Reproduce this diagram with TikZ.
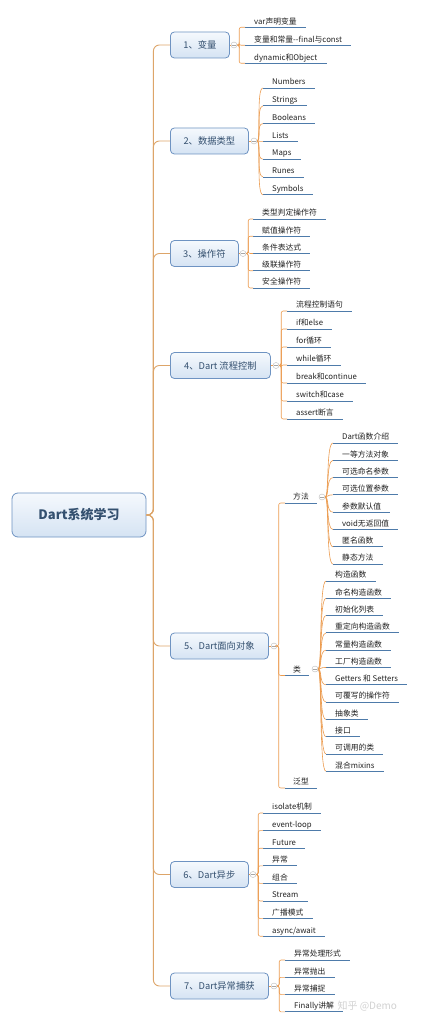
\documentclass[tikz,border=0pt]{standalone}
\usepackage{fontspec}
\setmainfont{Noto Sans CJK SC}
\usetikzlibrary{positioning,calc}
\definecolor{dkInk}{HTML}{222222}
\definecolor{dkNavy}{HTML}{34506F}
\definecolor{dkEdge}{HTML}{6E93C2}
\definecolor{dkTop}{HTML}{F5F9FD}
\definecolor{dkBot}{HTML}{D5E3F3}
\definecolor{dkTan}{HTML}{DDA569}
\definecolor{dkOrange}{HTML}{EC9C50}
\definecolor{dkLine}{HTML}{4E7BAA}
\definecolor{dkMark}{HTML}{D2D2D2}
\tikzset{
  topic/.style  ={draw=dkEdge,line width=0.8pt,rounded corners=4pt,
                  top color=dkTop,bottom color=dkBot,text=dkNavy,
                  font=\fontsize{9.3}{10}\selectfont,minimum height=26pt,
                  inner xsep=0pt,anchor=west},
  rootbox/.style={topic,anchor=center,minimum width=134pt,minimum height=44pt,
                  rounded corners=6pt,font=\fontsize{13}{15}\selectfont\bfseries},
  leaf/.style   ={anchor=south west,inner xsep=9pt,inner ysep=1.8pt,
                  text height=6pt,text depth=1.2pt,text=dkInk,
                  font=\fontsize{7.8}{8}\selectfont},
  uline/.style  ={dkLine,line width=0.9pt},
  trunk/.style  ={dkTan,line width=0.9pt,rounded corners=6pt},
  twig/.style   ={dkOrange,line width=0.6pt,rounded corners=2pt},
  fold/.style   ={circle,draw=gray!55,fill=white,line width=0.4pt,
                  minimum size=6pt,inner sep=0pt,
                  path picture={\draw[gray!70,line width=0.4pt]
                    ([xshift=-1.6pt]path picture bounding box.center) --
                    ([xshift=1.6pt]path picture bounding box.center);}},
}
\begin{document}
\begin{tikzpicture}[x=1pt,y=-1pt]
\fill[white] (0,0) rectangle (421,1024);
\useasboundingbox (0,0) rectangle (421,1024);

% root
\node[rootbox] (root) at (79,515) {Dart系统学习};

% main topics
\node[topic,minimum width=59pt]  (t1) at (170,45)    {1、变量};
\node[topic,minimum width=78pt]  (t2) at (170,141)   {2、数据类型};
\node[topic,minimum width=68pt]  (t3) at (170,253.5) {3、操作符};
\node[topic,minimum width=100pt] (t4) at (170,365.5) {4、Dart 流程控制};
\node[topic,minimum width=98pt]  (t5) at (170,646)   {5、Dart面向对象};
\node[topic,minimum width=78pt]  (t6) at (170,874.5) {6、Dart异步};
\node[topic,minimum width=98pt]  (t7) at (170,986)   {7、Dart异常捕获};

\foreach \i in {1,...,7}
  \draw[trunk] (root.east) -- ++(7,0) |- (t\i.west);

% fold marks
\node[fold] (f1) at (234,45)    {};
\node[fold] (f2) at (254,141)   {};
\node[fold] (f3) at (243,253.5) {};
\node[fold] (f4) at (276,365.5) {};
\node[fold] (f5) at (274,646)   {};
\node[fold] (f6) at (253,874.5) {};
\node[fold] (f7) at (274,986)   {};
\foreach \i in {1,...,7}
  \draw[twig] (t\i.east) -- (f\i.west);

% 1 variables
\foreach \t [count=\i] in {var声明变量, 变量和常量{-}{-}final与const, dynamic和Object} {
  \node[leaf] (var\i) at (245,{27.3+(\i-1)*18}) {\t};
  \draw[uline] (var\i.south west) -- (var\i.south east);
  \draw[twig] (f1.east) -- ++(2,0) |- (var\i.south west);
}

% 2 data types
\foreach \t [count=\i] in {Numbers, Strings, Booleans, Lists, Maps, Runes, Symbols} {
  \node[leaf] (type\i) at (263,{88+(\i-1)*17.8}) {\t};
  \draw[uline] (type\i.south west) -- (type\i.south east);
  \draw[twig] (f2.east) .. controls +(4,0) and +(-7,0) .. (type\i.south west);
}

% 3 operators
\foreach \t [count=\i] in {类型判定操作符, 赋值操作符, 条件表达式, 级联操作符, 安全操作符} {
  \node[leaf] (op\i) at (253,{219+(\i-1)*17.25}) {\t};
  \draw[uline] (op\i.south west) -- (op\i.south east);
  \draw[twig] (f3.east) -- ++(2,0) |- (op\i.south west);
}

% 4 control flow
\foreach \t [count=\i] in {流程控制语句, if和else, for循环, while循环, break和continue, switch和case, assert断言} {
  \node[leaf] (flow\i) at (287,{311+(\i-1)*18}) {\t};
  \draw[uline] (flow\i.south west) -- (flow\i.south east);
  \draw[twig] (f4.east) -- ++(2,0) |- (flow\i.south west);
}

% 5 object orientation
\node[leaf,inner xsep=8pt] (fn)  at (285,503)   {方法};
\node[leaf,inner xsep=8pt] (cls) at (285,675.5) {类};
\node[leaf,inner xsep=8pt] (gen) at (285,788)   {泛型};
\foreach \n in {fn,cls,gen} {
  \draw[uline] (\n.south west) -- (\n.south east);
  \draw[twig] (f5.east) -- ++(1.5,0) |- (\n.south west);
}
\node[fold] (fnf)  at (322,497) {};
\node[fold] (clsf) at (315,669) {};

\foreach \t [count=\i] in {Dart函数介绍, 一等方法对象, 可选命名参数, 可选位置参数, 参数默认值, void无返回值, 匿名函数, 静态方法} {
  \node[leaf] (fn\i) at (333,{443+(\i-1)*17.3}) {\t};
  \draw[uline] (fn\i.south west) -- (fn\i.south east);
  \draw[twig] (fnf.east) .. controls +(4,0) and +(-7,0) .. (fn\i.south west);
}
\foreach \t [count=\i] in {构造函数, 命名构造函数, 初始化列表, 重定向构造函数, 常量构造函数, 工厂构造函数, Getters 和 Setters, 可覆写的操作符, 抽象类, 接口, 可调用的类, 混合mixins} {
  \node[leaf] (cls\i) at (326,{581+(\i-1)*17.3}) {\t};
  \draw[uline] (cls\i.south west) -- (cls\i.south east);
  \draw[twig] (clsf.east) .. controls +(4,0) and +(-7,0) .. (cls\i.south west);
}

% 6 async
\foreach \t [count=\i] in {isolate机制, event-loop, Future, 异常, 组合, Stream, 广播模式, async/await} {
  \node[leaf] (async\i) at (263,{813+(\i-1)*17.6}) {\t};
  \draw[uline] (async\i.south west) -- (async\i.south east);
  \draw[twig] (f6.east) -- ++(2,0) |- (async\i.south west);
}

% 7 exceptions
\foreach \t [count=\i] in {异常处理形式, 异常抛出, 异常捕捉, Finally讲解} {
  \node[leaf] (err\i) at (285,{960+(\i-1)*17.3}) {\t};
  \draw[uline] (err\i.south west) -- (err\i.south east);
  \draw[twig] (f7.east) -- ++(2,0) |- (err\i.south west);
}

\node[anchor=west,text=dkMark,font=\fontsize{10}{12}\selectfont] (mark) at (334,1006) {知乎 @Demo};
\end{tikzpicture}
\end{document}
